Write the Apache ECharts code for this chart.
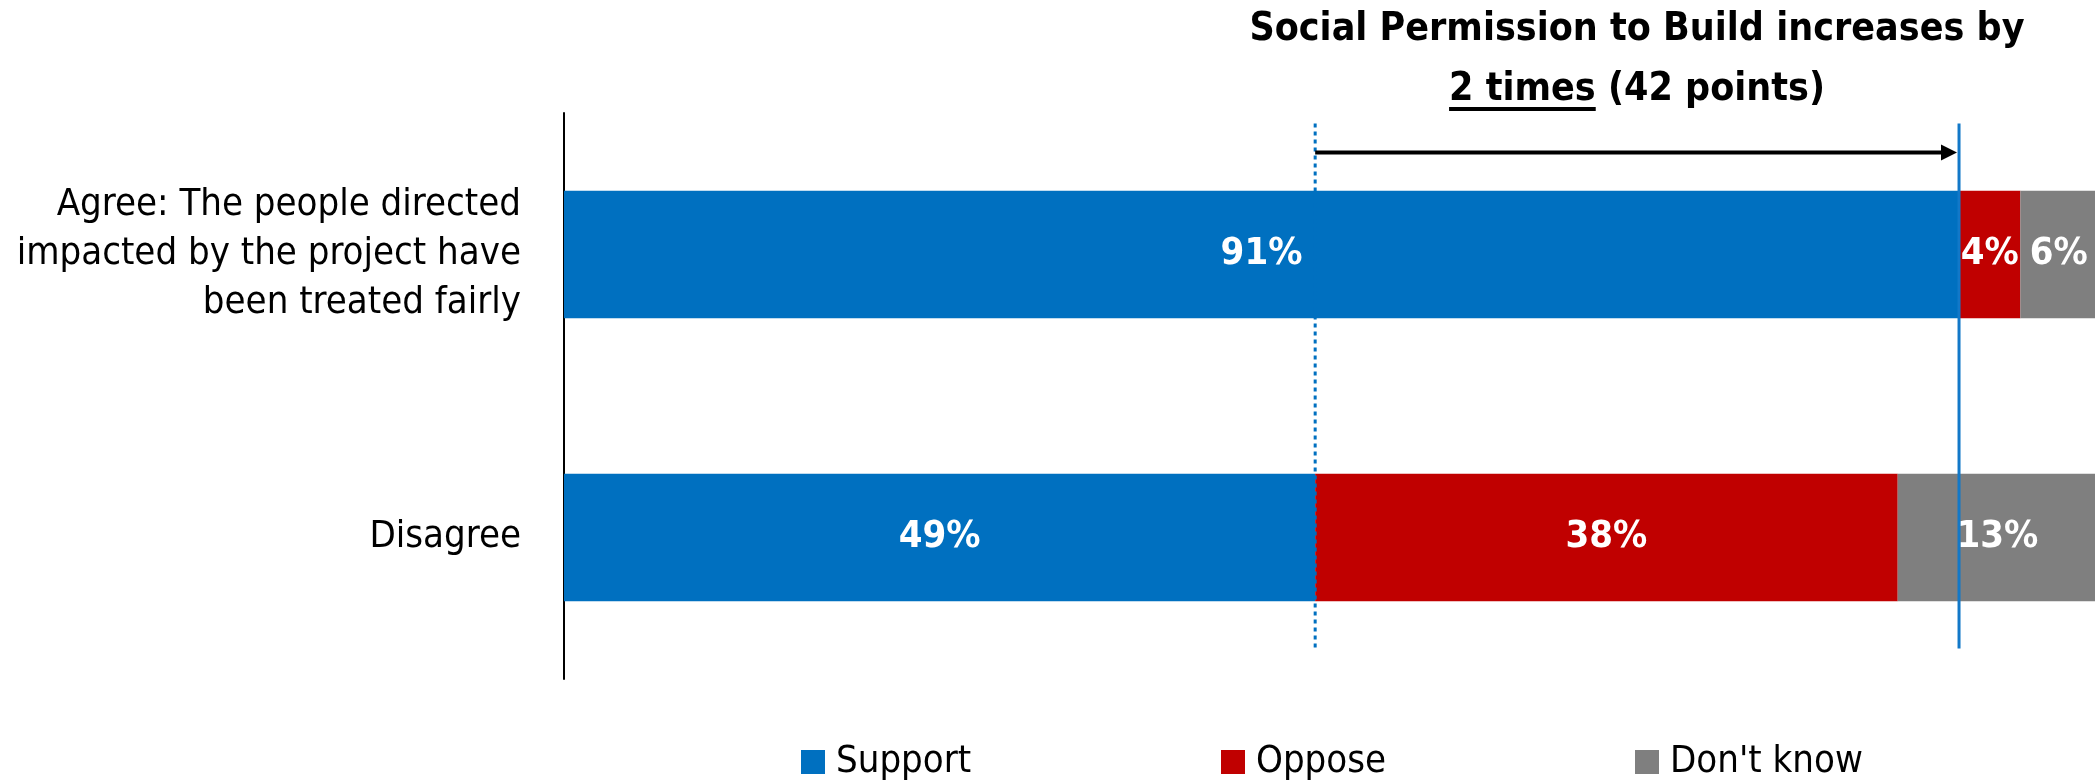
<!DOCTYPE html>
<html>
<head>
<meta charset="utf-8">
<script src="https://cdn.jsdelivr.net/npm/echarts@6/dist/echarts.min.js"></script>
<style>
  html, body { margin: 0; padding: 0; background: #fff; }
  #chart { width: 2095px; height: 780px; }
</style>
</head>
<body>
<div id="chart"></div>
<script>
// Survey groups (top to bottom) and the share answering each way, in percent
const categories = [
  'Agree: The people directed\nimpacted by the project have\nbeen treated fairly',
  'Disagree'
];
const support = [91, 49];
const oppose = [4, 38];
const dontKnow = [6, 13];
const seriesNames = ['Support', 'Oppose', "Don't know"];

const titleLine1 = 'Social Permission to Build increases by';
const titleEmph = '2 times';
const titleRest = ' (42 points)';

const FONT = '"DejaVu Sans Condensed", "Liberation Sans Narrow", "Noto Sans", sans-serif';
const BLUE = '#0070C0', RED = '#C00000', GRAY = '#7F7F7F';
const TITLE_FONT = 'bold 39px ' + FONT;

const chart = echarts.init(document.getElementById('chart'), null, { renderer: 'canvas' });

// Measure the headline so the underline sits under "2 times" exactly
const measureCtx = document.createElement('canvas').getContext('2d');
measureCtx.font = TITLE_FONT;
const titleCenterX = 1637;
const line2Width = measureCtx.measureText(titleEmph + titleRest).width;
const emphWidth = measureCtx.measureText(titleEmph).width;
const line2Left = titleCenterX - line2Width / 2;

function barSeries(name, data, color) {
  return {
    name: name,
    type: 'bar',
    stack: 'total',
    barWidth: '45%',
    data: data,
    itemStyle: { color: color },
    label: {
      show: true,
      position: 'inside',
      formatter: '{c}%',
      color: '#fff',
      fontFamily: FONT,
      fontWeight: 'bold',
      fontSize: 38
    }
  };
}

// Reference lines at the two Support levels plus the arrow between them
const shiftSeries = {
  type: 'custom',
  silent: true,
  clip: false,
  z: 10,
  data: [[support[1], support[0]]],
  renderItem: function (params, api) {
    const low = api.value(0), high = api.value(1);
    const band = api.size([0, 1])[1];
    const top = api.coord([low, 0])[1] - band * 0.463;
    const bottom = api.coord([low, 1])[1] + band * 0.392;
    const xLow = api.coord([low, 0])[0];
    const xHigh = api.coord([high, 0])[0];
    const arrowY = api.coord([low, 0])[1] - band * 0.36;
    return {
      type: 'group',
      children: [
        {
          type: 'line',
          shape: { x1: xLow, y1: top, x2: xLow, y2: bottom },
          style: { stroke: BLUE, lineWidth: 3, lineDash: [4, 4] }
        },
        {
          type: 'line',
          shape: { x1: xHigh, y1: top, x2: xHigh, y2: bottom },
          style: { stroke: '#1278C8', lineWidth: 3 }
        },
        {
          type: 'line',
          shape: { x1: xLow, y1: arrowY, x2: xHigh - 14, y2: arrowY },
          style: { stroke: '#000', lineWidth: 4 }
        },
        {
          type: 'polygon',
          shape: { points: [[xHigh - 2, arrowY], [xHigh - 18, arrowY - 8], [xHigh - 18, arrowY + 8]] },
          style: { fill: '#000' }
        }
      ]
    };
  }
};

// One legend per entry so the three keys sit at even spacing
const legendLefts = [801, 1221, 1635];
const legends = seriesNames.map(function (name, i) {
  return {
    data: [name],
    left: legendLefts[i],
    top: 743,
    padding: 0,
    icon: 'rect',
    itemWidth: 24,
    itemHeight: 24,
    textStyle: {
      color: '#000',
      fontFamily: FONT,
      fontSize: 38,
      padding: [0, 0, 0, 6]
    }
  };
});

chart.setOption({
  animation: false,
  backgroundColor: '#fff',
  textStyle: { fontFamily: FONT },
  grid: {
    left: 564, right: -2, top: 113, height: 566,
    containLabel: false,
    outerBoundsMode: 'none'
  },
  xAxis: {
    type: 'value',
    min: 0,
    max: 100,
    show: false
  },
  yAxis: {
    type: 'category',
    inverse: true,
    data: categories,
    axisLine: { show: true, lineStyle: { color: '#000', width: 2 } },
    axisTick: { show: false },
    axisLabel: {
      color: '#000',
      fontFamily: FONT,
      fontSize: 38,
      lineHeight: 49,
      align: 'right',
      margin: 43
    }
  },
  legend: legends,
  graphic: [
    {
      type: 'text',
      x: titleCenterX,
      y: 30,
      style: {
        text: titleLine1,
        x: 0, y: 0,
        align: 'center',
        verticalAlign: 'middle',
        fill: '#000',
        font: TITLE_FONT
      }
    },
    {
      type: 'text',
      x: titleCenterX,
      y: 90,
      style: {
        text: titleEmph + titleRest,
        x: 0, y: 0,
        align: 'center',
        verticalAlign: 'middle',
        fill: '#000',
        font: TITLE_FONT
      }
    },
    {
      type: 'rect',
      shape: { x: line2Left, y: 107, width: emphWidth, height: 4 },
      style: { fill: '#000' }
    }
  ],
  series: [
    barSeries(seriesNames[0], support, BLUE),
    barSeries(seriesNames[1], oppose, RED),
    barSeries(seriesNames[2], dontKnow, GRAY),
    shiftSeries
  ]
});
</script>
</body>
</html>
